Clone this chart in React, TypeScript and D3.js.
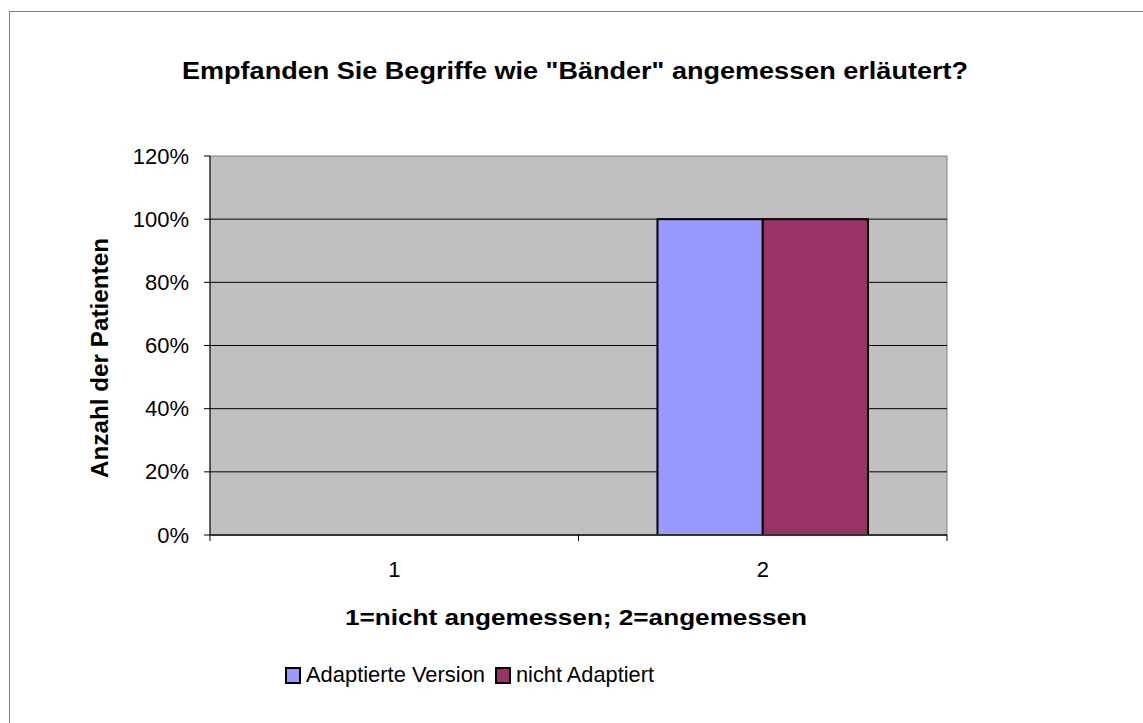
import * as d3 from 'd3'

const categories = ['1', '2']
const seriesNames = ['Adaptierte Version', 'nicht Adaptiert']
const adaptiert = [0, 1]
const nichtAdaptiert = [0, 1]
const yTicks = [0, 0.2, 0.4, 0.6, 0.8, 1.0, 1.2]
const colors = ['#9999FF', '#993366']

const W = 1143
const H = 723
const font = '"Liberation Sans", Arial, sans-serif'

const App = () => {
  const left = 210
  const right = 947
  const top = 156
  const bottom = 535

  const x = d3.scaleBand().domain(categories).range([left, right]).padding(0)
  // Excel gap width 150% -> 0.75 bar widths on each side
  const inner = d3.scaleBand().domain(seriesNames).range([0, x.bandwidth()]).paddingInner(0).paddingOuter(0.75)
  const y = d3.scaleLinear().domain([0, 1.2]).range([bottom, top])
  const fmt = d3.format('.0%')

  const series = [adaptiert, nichtAdaptiert]
  const legendX = [285, 495]
  const legendLen = [179, 138]

  return (
    <svg width={W} height={H} style={{ position: 'absolute', left: 0, top: 0, background: '#fff' }}>
      {/* chart border, cut off by the page at right and bottom */}
      <rect x={9.5} y={11.5} width={1200} height={800} fill='none' stroke='#808080' strokeWidth={1} />

      <text
        x={575}
        y={79}
        textAnchor='middle'
        fontFamily={font}
        fontWeight='bold'
        fontSize={23}
        textLength={786}
        lengthAdjust='spacingAndGlyphs'
        fill='#000'
      >
        Empfanden Sie Begriffe wie "Bänder" angemessen erläutert?
      </text>

      {/* plot area */}
      <rect x={left} y={top} width={right - left} height={bottom - top} fill='#C0C0C0' stroke='#808080' />
      {yTicks.slice(1, -1).map((t) => (
        <line key={t} x1={left} x2={right} y1={y(t)} y2={y(t)} stroke='#000' strokeWidth={1} />
      ))}

      {categories.map((c, ci) =>
        series.map((s, si) =>
          s[ci] > 0 ? (
            <rect
              key={c + si}
              x={(x(c) || 0) + (inner(seriesNames[si]) || 0)}
              y={y(s[ci])}
              width={inner.bandwidth()}
              height={y(0) - y(s[ci])}
              fill={colors[si]}
              stroke='#000'
              strokeWidth={2}
            />
          ) : null
        )
      )}

      {/* axes */}
      <line x1={left} x2={left} y1={top} y2={bottom + 6} stroke='#000' />
      <line x1={left} x2={right} y1={bottom} y2={bottom} stroke='#333' strokeWidth={2} />
      {yTicks.map((t) => (
        <g key={t}>
          <line x1={left - 6} x2={left} y1={y(t)} y2={y(t)} stroke='#000' />
          <text x={189} y={y(t) + 7.5} textAnchor='end' fontFamily={font} fontSize={22} fill='#000'>
            {fmt(t)}
          </text>
        </g>
      ))}
      {categories.map((c) => (
        <g key={c}>
          <line x1={(x(c) || 0) + x.bandwidth()} x2={(x(c) || 0) + x.bandwidth()} y1={bottom} y2={bottom + 6} stroke='#000' />
          <text x={(x(c) || 0) + x.bandwidth() / 2} y={577} textAnchor='middle' fontFamily={font} fontSize={22} fill='#000'>
            {c}
          </text>
        </g>
      ))}

      <text
        transform={`translate(108,358) rotate(-90)`}
        textAnchor='middle'
        fontFamily={font}
        fontWeight='bold'
        fontSize={23}
        textLength={240}
        lengthAdjust='spacingAndGlyphs'
        fill='#000'
      >
        Anzahl der Patienten
      </text>
      <text
        x={576}
        y={625}
        textAnchor='middle'
        fontFamily={font}
        fontWeight='bold'
        fontSize={22}
        textLength={462}
        lengthAdjust='spacingAndGlyphs'
        fill='#000'
      >
        1=nicht angemessen; 2=angemessen
      </text>

      {/* legend */}
      {seriesNames.map((name, i) => (
        <g key={name}>
          <rect x={legendX[i] + 1} y={668} width={14} height={15} fill={colors[i]} stroke='#000' strokeWidth={2} />
          <text
            x={legendX[i] + 21}
            y={682}
            fontFamily={font}
            fontSize={22}
            textLength={legendLen[i]}
            lengthAdjust='spacingAndGlyphs'
            fill='#000'
          >
            {name}
          </text>
        </g>
      ))}
    </svg>
  )
}

export default App
